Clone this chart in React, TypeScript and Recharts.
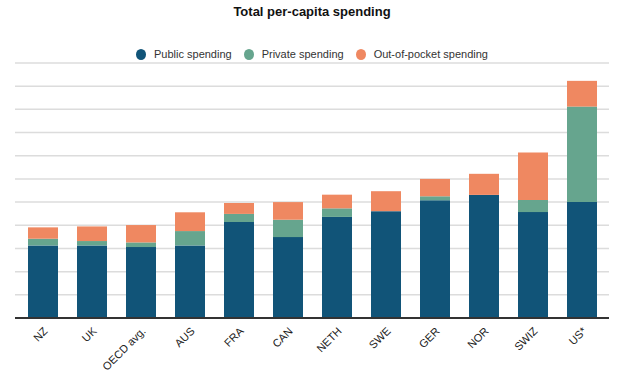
import React from 'react'
import { BarChart, Bar, XAxis, YAxis, CartesianGrid } from 'recharts'

const countries = ['NZ', 'UK', 'OECD avg.', 'AUS', 'FRA', 'CAN', 'NETH', 'SWE', 'GER', 'NOR', 'SWIZ', 'US*']
const publicSpending = [3130, 3130, 3060, 3130, 4140, 3490, 4360, 4610, 5080, 5310, 4570, 5000]
const privateSpending = [290, 190, 200, 620, 350, 750, 370, 0, 170, 0, 520, 4120]
const outOfPocket = [490, 630, 750, 810, 470, 760, 590, 860, 750, 910, 2050, 1110]
const yTicks = [0, 1000, 2000, 3000, 4000, 5000, 6000, 7000, 8000, 9000, 10000, 11000]

const COLORS = {
  public: '#115478',
  private: '#66a58e',
  oop: '#ef8861',
}

const series = [
  { key: 'public', name: 'Public spending', color: COLORS.public },
  { key: 'private', name: 'Private spending', color: COLORS.private },
  { key: 'oop', name: 'Out-of-pocket spending', color: COLORS.oop },
]

const data = countries.map((name, i) => ({
  name,
  public: publicSpending[i],
  private: privateSpending[i],
  oop: outOfPocket[i],
}))

const FONT = '"Liberation Sans", Arial, sans-serif'

const LegendRow = () => (
  <div style={{ position: 'absolute', top: 48, width: 624, display: 'flex', justifyContent: 'center', alignItems: 'center', fontFamily: FONT, fontSize: 11, color: '#333' }}>
    {series.map((s) => (
      <div key={s.key} style={{ display: 'flex', alignItems: 'center', margin: '0 6px' }}>
        <span style={{ width: 10, height: 11, borderRadius: '50%', background: s.color, display: 'inline-block', marginRight: 8 }} />
        <span>{s.name}</span>
      </div>
    ))}
  </div>
)

const AngledTick = ({ x, y, payload }: any) => (
  <g transform={`translate(${x + 3},${y + 3})`}>
    <text x={0} y={0} dy={4} textAnchor="end" transform="rotate(-45)" fill="#222" fontSize={11} fontFamily={FONT}>
      {payload.value}
    </text>
  </g>
)

export default function App() {
  return (
    <div style={{ position: 'absolute', left: 0, top: 0, width: 624, height: 377, background: '#fff' }}>
      <div style={{ position: 'absolute', top: 4, width: 624, textAlign: 'center', fontFamily: FONT, fontWeight: 'bold', fontSize: 13, color: '#111' }}>
        Total per-capita spending
      </div>
      <LegendRow />
      <BarChart width={624} height={377} data={data} margin={{ top: 63, right: 15, left: 15, bottom: 0 }}>
        <CartesianGrid vertical={false} stroke="#dcdcdc" strokeWidth={1.5} />
        <XAxis
          dataKey="name"
          interval={0}
          padding={{ left: 3, right: 3 }}
          height={59}
          tickLine={false}
          axisLine={{ stroke: '#333', strokeWidth: 2 }}
          tick={<AngledTick />}
        />
        <YAxis hide type="number" domain={[0, 11000]} ticks={yTicks} interval={0} allowDataOverflow />
        {series.map((s) => (
          <Bar key={s.key} dataKey={s.key} name={s.name} stackId="a" fill={s.color} barSize={30} isAnimationActive={false} />
        ))}
      </BarChart>
    </div>
  )
}
